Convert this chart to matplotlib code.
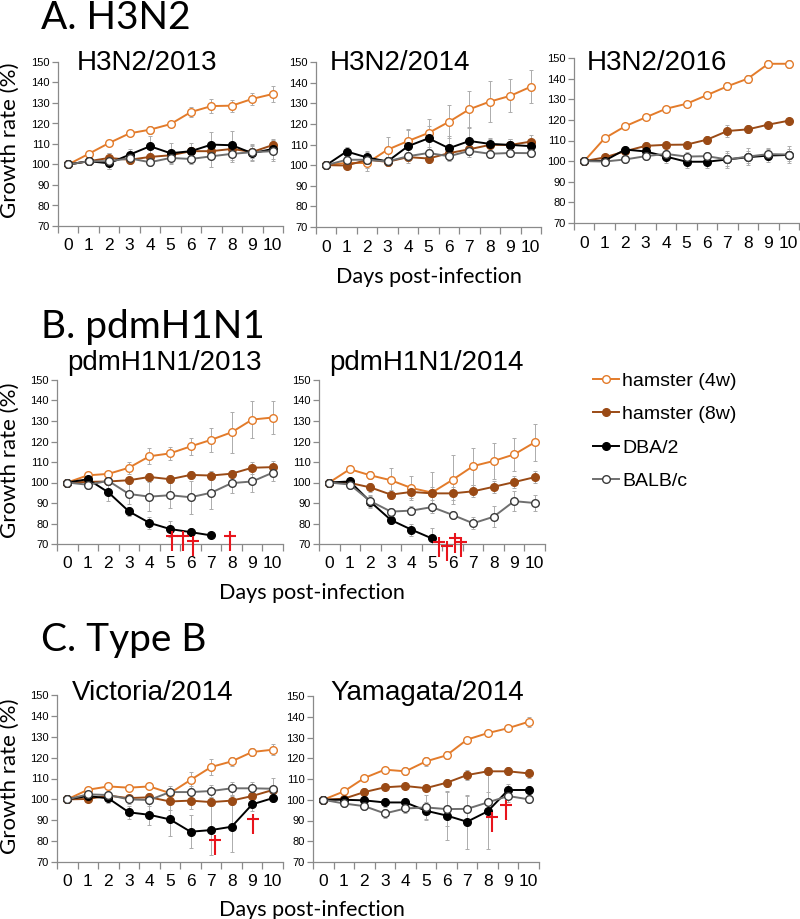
import numpy as np
import matplotlib
matplotlib.use("Agg")
from matplotlib import pyplot as plt
from matplotlib.path import Path
from matplotlib.ticker import MultipleLocator, FixedLocator

W, H = 800, 919
days = np.arange(11)

# ---- data (growth rate %, mean and error) ----
# A. H3N2/2013
a1_h4 = [100, 105.2, 110.5, 115.2, 117.0, 119.7, 125.6, 128.5, 128.7, 132.0, 134.4]
a1_h8 = [100, 101.6, 103.2, 102.3, 103.7, 104.5, 106.5, 106.5, 107.6, 106.1, 109.5]
a1_dba = [100, 101.6, 100.6, 104.8, 108.9, 105.5, 106.5, 109.7, 109.4, 105.5, 107.6]
a1_balb = [100, 101.6, 101.6, 103.0, 101.1, 103.2, 102.7, 104.0, 105.2, 106.0, 106.5]
a1_h4_e = [0, 1, 1.5, 1.5, 2, 1, 2.5, 3.5, 3, 3, 4]
a1_h8_e = [0, 1.5, 2.5, 2, 2, 2, 2, 2, 3, 3, 2.5]
a1_dba_e = [0, 1.5, 3, 3, 5, 5, 4, 6, 7, 4, 5]
a1_balb_e = [0, 1.5, 4, 2, 2, 3, 2.5, 5, 4, 4, 5]

# A. H3N2/2014
a2_h4 = [100, 101.1, 101.0, 107.5, 111.7, 115.6, 121.0, 127.1, 130.8, 133.6, 138.0]
a2_h8 = [100, 99.8, 102.6, 101.6, 103.9, 103.2, 105.8, 107.7, 109.8, 109.8, 111.4]
a2_dba = [100, 106.6, 103.7, 101.8, 109.2, 113.0, 108.2, 111.7, 110.3, 109.8, 109.2]
a2_balb = [100, 102.6, 102.6, 101.8, 104.3, 105.9, 104.3, 106.9, 105.5, 105.9, 105.8]
a2_h4_e = [0, 1, 4, 6, 6, 7, 8, 9, 10, 8, 8]
a2_h8_e = [0, 1, 2, 2, 2, 2, 3, 3, 3, 3, 3]
a2_dba_e = [0, 2, 3, 2, 8, 6, 6, 7, 3, 3, 3]
a2_balb_e = [0, 2, 4, 2, 2, 2, 2, 3, 2, 2, 2]

# A. H3N2/2016
a3_h4 = [100, 111.1, 116.9, 121.2, 125.4, 127.8, 132.0, 136.3, 140.0, 147.2, 147.2]
a3_h8 = [100, 101.8, 104.8, 107.4, 107.9, 108.0, 110.4, 114.6, 115.4, 117.7, 119.6]
a3_dba = [100, 100.2, 105.6, 104.7, 102.2, 99.7, 99.7, 100.8, 101.9, 102.7, 103.0]
a3_balb = [100, 99.8, 100.8, 102.4, 103.5, 102.2, 102.4, 100.8, 102.2, 103.4, 103.2]
a3_h4_e = [0, 1, 1, 1, 1, 1, 1, 2, 2, 2, 2]
a3_h8_e = [0, 1.5, 1.5, 2, 1.5, 1.5, 2, 3, 2, 1.5, 1.5]
a3_dba_e = [0, 1, 1.5, 2, 3, 3, 3, 3, 3, 3, 3]
a3_balb_e = [0, 1, 1.5, 2, 3, 2, 2, 4, 4, 3, 4]

# B. pdmH1N1/2013
b1_h4 = [100, 103.5, 104.2, 107.2, 112.8, 114.2, 117.6, 120.8, 124.5, 130.7, 131.7]
b1_h8 = [100, 100.3, 100.5, 101.1, 102.7, 101.6, 103.7, 103.4, 104.3, 107.2, 107.5]
b1_dba = [100, 101.6, 95.2, 85.9, 80.3, 77.3, 75.8, 74.2]
b1_balb = [100, 98.9, 100.8, 94.4, 93.1, 93.8, 92.8, 95.0, 99.7, 100.5, 104.8]
b1_h4_e = [0, 1, 1.5, 3, 4, 3, 4, 6, 10, 9, 8]
b1_h8_e = [0, 1, 1.5, 1.5, 2, 2, 2, 2, 2, 3, 3]
b1_dba_e = [0, 1, 4, 2, 3, 4, 2, 1]
b1_balb_e = [0, 2, 2, 5, 7, 6, 8, 8, 5, 5, 4]
# deaths (dagger crossbar positions)
b1_dead_x = [5.08, 5.61, 6.13, 7.9]
b1_dead_y = [73.7, 73.9, 71.3, 73.7]

# B. pdmH1N1/2014
b2_h4 = [100, 106.5, 103.5, 101.1, 97.3, 95.1, 101.3, 108.0, 110.5, 113.7, 119.6]
b2_h8 = [100, 99.8, 97.6, 94.1, 95.4, 94.7, 94.7, 95.7, 97.9, 100.2, 102.6]
b2_dba = [100, 100.5, 90.6, 81.7, 77.0, 72.7]
b2_balb = [100, 99.0, 90.9, 85.8, 86.3, 88.0, 84.2, 80.1, 83.3, 90.9, 90.0]
b2_h4_e = [0, 1, 2, 6, 6, 10, 12, 9, 9, 8, 9]
b2_h8_e = [0, 1, 2, 2, 3, 3, 3, 3, 3, 3, 3]
b2_dba_e = [0, 1, 3, 2, 3, 5]
b2_balb_e = [0, 2, 3, 2, 2, 2, 2, 3, 5, 5, 4]
b2_dead_x = [5.32, 5.73, 6.1, 6.39]
b2_dead_y = [71.1, 69.0, 72.9, 71.1]

# C. Victoria/2014
c1_h4 = [100, 104.6, 106.2, 105.6, 106.2, 103.0, 109.3, 115.5, 118.2, 122.7, 123.8]
c1_h8 = [100, 100.2, 101.8, 100.6, 101.0, 99.0, 99.4, 98.7, 99.4, 101.6, 104.5]
c1_dba = [100, 101.6, 100.5, 93.8, 92.6, 90.4, 84.5, 85.3, 86.9, 97.6, 100.6]
c1_balb = [100, 102.4, 102.1, 100.0, 99.7, 103.5, 103.5, 104.0, 105.3, 105.3, 105.1]
c1_h4_e = [0, 1, 1, 1, 1, 2, 4, 4, 2, 2, 2.5]
c1_h8_e = [0, 1, 1, 1, 2, 4, 4, 2, 2, 2, 2]
c1_dba_e = [0, 2, 2, 3, 5, 8, 8, 12, 12, 3, 2]
c1_balb_e = [0, 2, 2, 2, 3, 3, 3, 3, 3, 3, 5]
c1_dead_x = [7.18, 9.03]
c1_dead_y = [80.6, 90.7]

# C. Yamagata/2014
c2_h4 = [100, 104.0, 110.5, 114.5, 113.7, 118.5, 121.4, 129.0, 132.1, 134.5, 137.6]
c2_h8 = [100, 100.5, 103.7, 106.0, 106.6, 105.6, 108.2, 111.9, 113.7, 113.7, 112.7]
c2_dba = [100, 100.0, 99.7, 98.7, 98.7, 94.7, 92.4, 89.4, 94.4, 104.7, 104.7]
c2_balb = [100, 98.2, 96.9, 93.4, 95.8, 96.3, 95.5, 95.6, 98.7, 101.8, 100.2]
c2_h4_e = [0, 1, 1.5, 1.5, 2, 2, 2, 1, 1, 1.5, 2.5]
c2_h8_e = [0, 1, 2, 1.5, 1.5, 1.5, 2, 2.5, 2, 2, 2]
c2_dba_e = [0, 1, 1.5, 2, 2, 4, 12, 13, 18, 3, 2]
c2_balb_e = [0, 1.5, 2, 2, 2, 6, 8, 6, 5, 3, 2]
c2_dead_x = [8.19, 8.87]
c2_dead_y = [91.5, 97.6]

labels = ["hamster (4w)", "hamster (8w)", "DBA/2", "BALB/c"]

ORANGE = "#e37b2a"
BROWN = "#9a4a15"
GRAY = "#6f6f6f"
styles = [
    dict(color=ORANGE, mfc="white", mec=ORANGE),
    dict(color=BROWN, mfc=BROWN, mec=BROWN),
    dict(color="black", mfc="black", mec="black"),
    dict(color=GRAY, mfc="white", mec="#3a3a3a"),
]

NARROW = ["Liberation Sans Narrow", "Liberation Sans", "DejaVu Sans"]
ARIAL = ["Liberation Sans", "DejaVu Sans"]
CALIBRI = ["Lato", "DejaVu Sans"]

# thin dagger shape used as a marker
dagger = Path([(0, 0.35), (0, -1.0), (-0.42, 0), (0.42, 0)],
              [Path.MOVETO, Path.LINETO, Path.MOVETO, Path.LINETO])

fig = plt.figure(figsize=(W / 100, H / 100), dpi=100)


def fx(x):
    return x / W


def fy(y):
    return 1 - y / H


def make_ax(l, t, r, b):
    ax = fig.add_axes([fx(l), fy(b), (r - l) / W, (b - t) / H])
    ax.set_xlim(-0.5, 10.5)
    ax.set_ylim(70, 150)
    for s in ["top", "right"]:
        ax.spines[s].set_visible(False)
    for s in ["left", "bottom"]:
        ax.spines[s].set_color("#8a8a8a")
        ax.spines[s].set_linewidth(0.9)
    ax.yaxis.set_major_locator(MultipleLocator(10))
    ax.xaxis.set_major_locator(FixedLocator(days))
    ax.xaxis.set_minor_locator(FixedLocator(np.arange(-0.5, 11, 1)))
    ax.tick_params(axis="x", which="major", length=0, pad=9)
    ax.tick_params(axis="x", which="minor", length=5, color="#8a8a8a", width=0.9)
    ax.tick_params(axis="y", length=4, color="#8a8a8a", width=0.9, pad=2)
    for t_ in ax.get_xticklabels():
        t_.set_family(NARROW)
        t_.set_fontsize(12.5)
    for t_ in ax.get_yticklabels():
        t_.set_family(NARROW)
        t_.set_fontsize(8)
    return ax


def draw(ax, series, errs, dead_x=None, dead_y=None):
    handles = []
    for y, e, st, lab in zip(series, errs, styles, labels):
        x = days[:len(y)]
        ax.errorbar(x, y, yerr=e, fmt="none", ecolor="#acacac",
                    elinewidth=0.7, capsize=1.5, capthick=0.7, zorder=1)
        h, = ax.plot(x, y, "-o", lw=1.4, ms=5.5, mew=1.0, label=lab,
                     zorder=3, **st)
        handles.append(h)
    if dead_x is not None:
        ax.plot(dead_x, dead_y, ls="none", marker=dagger, ms=22, mew=1.5,
                color="#e8141c", clip_on=False, zorder=5)
    return handles


a1 = make_ax(58, 62, 283, 226)
a2 = make_ax(316, 62, 541, 227)
a3 = make_ax(574, 58, 799, 223)
b1 = make_ax(57, 380, 283, 544)
b2 = make_ax(319, 380, 545, 544)
c1 = make_ax(57, 695, 283, 862)
c2 = make_ax(313, 696, 539, 862)

draw(a1, [a1_h4, a1_h8, a1_dba, a1_balb], [a1_h4_e, a1_h8_e, a1_dba_e, a1_balb_e])
draw(a2, [a2_h4, a2_h8, a2_dba, a2_balb], [a2_h4_e, a2_h8_e, a2_dba_e, a2_balb_e])
draw(a3, [a3_h4, a3_h8, a3_dba, a3_balb], [a3_h4_e, a3_h8_e, a3_dba_e, a3_balb_e])
draw(b1, [b1_h4, b1_h8, b1_dba, b1_balb], [b1_h4_e, b1_h8_e, b1_dba_e, b1_balb_e],
     b1_dead_x, b1_dead_y)
hs = draw(b2, [b2_h4, b2_h8, b2_dba, b2_balb], [b2_h4_e, b2_h8_e, b2_dba_e, b2_balb_e],
          b2_dead_x, b2_dead_y)
draw(c1, [c1_h4, c1_h8, c1_dba, c1_balb], [c1_h4_e, c1_h8_e, c1_dba_e, c1_balb_e],
     c1_dead_x, c1_dead_y)
draw(c2, [c2_h4, c2_h8, c2_dba, c2_balb], [c2_h4_e, c2_h8_e, c2_dba_e, c2_balb_e],
     c2_dead_x, c2_dead_y)

# section titles
for txt, y in [("A. H3N2", 29), ("B. pdmH1N1", 338), ("C. Type B", 651)]:
    fig.text(fx(41), fy(y), txt, family=CALIBRI, fontsize=28, va="baseline")

# panel titles
for txt, x, y in [("H3N2/2013", 77, 70), ("H3N2/2014", 330, 70),
                  ("H3N2/2016", 587, 70), ("pdmH1N1/2013", 67, 370),
                  ("pdmH1N1/2014", 329, 370), ("Victoria/2014", 72, 700),
                  ("Yamagata/2014", 330, 700)]:
    fig.text(fx(x), fy(y), txt, family=ARIAL, fontsize=20, va="baseline")

# axis titles
for y in [140, 460, 776]:
    fig.text(fx(10), fy(y), "Growth rate (%)", family=CALIBRI, fontsize=16,
             rotation=90, ha="center", va="center")
for x, y in [(429, 277), (312, 593), (312, 910)]:
    fig.text(fx(x), fy(y), "Days post-infection", family=CALIBRI, fontsize=15.5,
             ha="center", va="center")

fig.legend(handles=hs, labels=labels, loc="upper left",
           bbox_to_anchor=(fx(593), fy(372)), frameon=False,
           prop=dict(family=ARIAL, size=14), handlelength=1.35,
           handletextpad=0.15, labelspacing=0.82, borderpad=0,
           borderaxespad=0)

fig.savefig("out.png", dpi=100)
